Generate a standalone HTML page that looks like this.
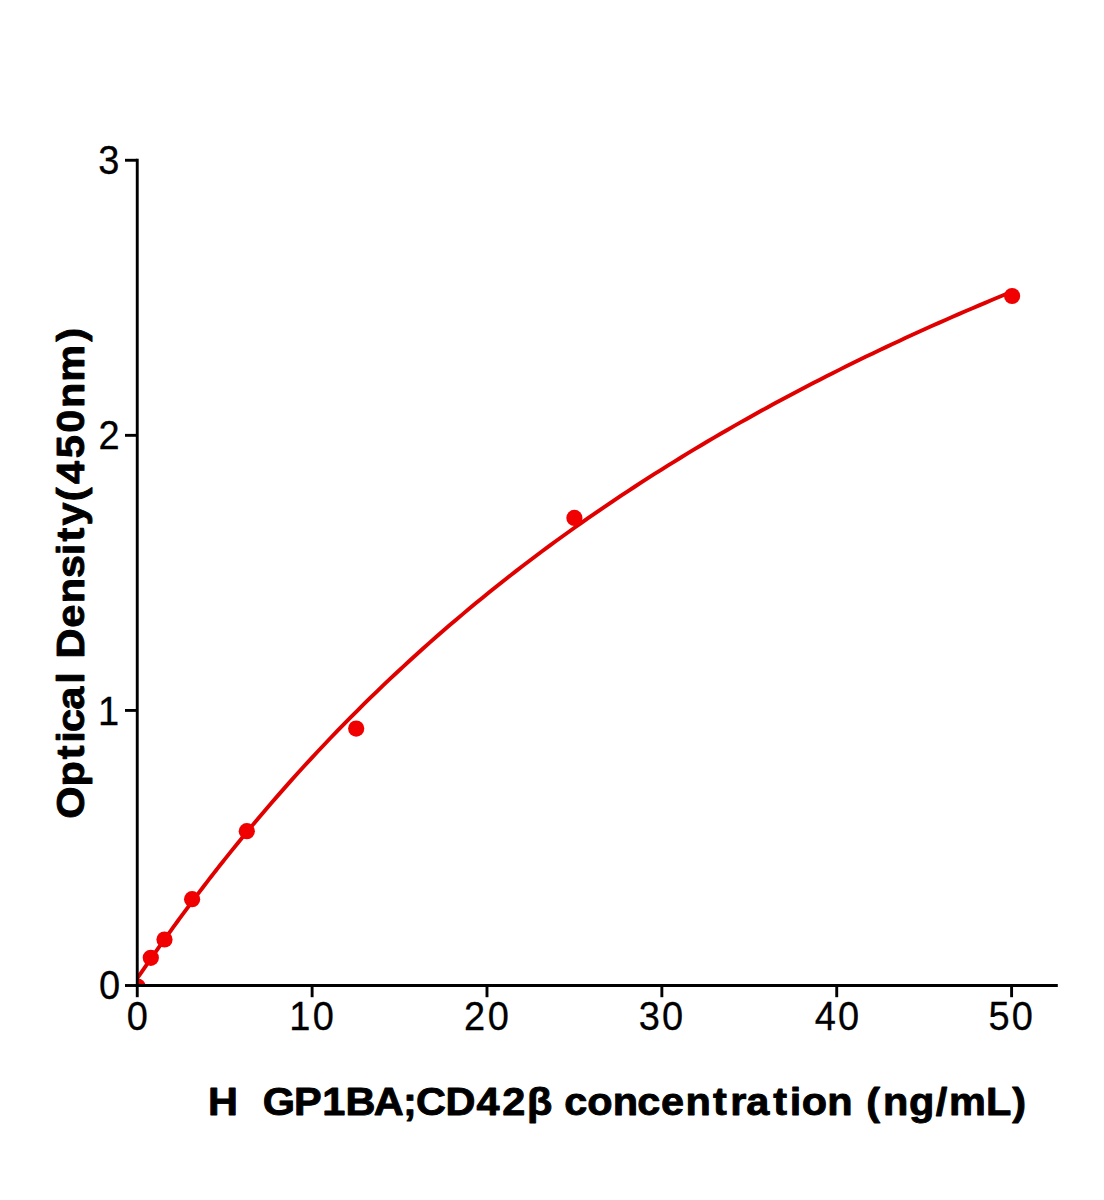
<!DOCTYPE html>
<html><head><meta charset="utf-8"><title>ELISA standard curve</title><style>
html,body{margin:0;padding:0;background:#fff;width:1104px;height:1200px;overflow:hidden;}
svg{display:block;}
text{font-family:"Liberation Sans",sans-serif;white-space:pre;}
</style></head><body>
<svg width="1104" height="1200" viewBox="0 0 1104 1200">
<rect width="1104" height="1200" fill="#fff"/>
<defs><clipPath id="ax"><rect x="137.25" y="160.25" width="919.05" height="825.25"/></clipPath></defs>
<g clip-path="url(#ax)">
<polyline points="137.25,978.23 139.49,975.04 141.73,971.82 143.98,968.59 146.22,965.37 148.46,962.15 150.70,958.94 152.94,955.74 155.19,952.55 157.43,949.37 159.67,946.20 161.91,943.04 164.15,939.90 166.39,936.76 168.64,933.64 170.88,930.52 173.12,927.42 175.36,924.33 177.60,921.25 179.85,918.19 182.09,915.14 184.33,912.09 186.57,909.07 188.81,906.05 191.06,903.04 193.30,900.05 195.54,897.07 197.78,894.10 200.02,891.14 202.27,888.20 204.51,885.26 206.75,882.34 208.99,879.43 211.23,876.53 213.48,873.65 215.72,870.77 217.96,867.91 220.20,865.06 222.44,862.22 224.69,859.39 231.30,851.11 237.91,842.94 244.52,834.86 251.14,826.87 257.75,818.98 264.36,811.19 270.97,803.48 277.59,795.86 284.20,788.34 290.81,780.90 297.43,773.55 304.04,766.28 310.65,759.09 317.26,751.99 323.88,744.97 330.49,738.03 337.10,731.17 343.71,724.38 350.33,717.67 356.94,711.03 363.55,704.47 370.17,697.98 376.78,691.56 383.39,685.21 390.00,678.93 396.62,672.72 403.23,666.57 409.84,660.50 416.45,654.48 423.07,648.53 429.68,642.64 436.29,636.82 442.91,631.05 449.52,625.35 456.13,619.70 462.74,614.12 469.36,608.59 475.97,603.11 482.58,597.69 489.19,592.33 495.81,587.02 502.42,581.77 509.03,576.57 515.65,571.41 522.26,566.31 528.87,561.26 535.48,556.26 542.10,551.31 548.71,546.41 555.32,541.55 561.93,536.74 568.55,531.98 575.16,527.26 581.77,522.59 588.39,517.96 595.00,513.38 601.61,508.83 608.22,504.33 614.84,499.88 621.45,495.46 628.06,491.08 634.67,486.75 641.29,482.45 647.90,478.19 654.51,473.98 661.13,469.80 667.74,465.65 674.35,461.55 680.96,457.48 687.58,453.44 694.19,449.44 700.80,445.48 707.41,441.55 714.03,437.66 720.64,433.80 727.25,429.97 733.87,426.18 740.48,422.42 747.09,418.69 753.70,414.99 760.32,411.32 766.93,407.69 773.54,404.08 780.15,400.51 786.77,396.96 793.38,393.45 799.99,389.96 806.61,386.50 813.22,383.07 819.83,379.67 826.44,376.30 833.06,372.95 839.67,369.63 846.28,366.34 852.89,363.07 859.51,359.83 866.12,356.62 872.73,353.43 879.35,350.26 885.96,347.12 892.57,344.01 899.18,340.92 905.80,337.85 912.41,334.81 919.02,331.79 925.63,328.79 932.25,325.82 938.86,322.87 945.47,319.94 952.09,317.04 958.70,314.15 965.31,311.29 971.92,308.45 978.54,305.63 985.15,302.83 991.76,300.05 998.37,297.29 1004.99,294.56 1011.60,291.84" fill="none" stroke="#e00000" stroke-width="3.9" stroke-linejoin="round" stroke-linecap="butt"/>
<g fill="#f00000">
<circle cx="137.6" cy="986.5" r="8.1"/>
<circle cx="150.8" cy="957.8" r="8.1"/>
<circle cx="164.5" cy="939.5" r="8.1"/>
<circle cx="192.1" cy="899.2" r="8.1"/>
<circle cx="246.8" cy="831.2" r="8.1"/>
<circle cx="356.2" cy="728.6" r="8.1"/>
<circle cx="574.4" cy="517.9" r="8.1"/>
<circle cx="1012.1" cy="296.0" r="8.1"/>
</g>
</g>
<g stroke="#000" stroke-width="2.9" fill="none">
<line x1="137.25" y1="158.8" x2="137.25" y2="986.95"/>
<line x1="135.8" y1="985.5" x2="1057.8" y2="985.5"/>
<line x1="125" y1="985.50" x2="137.25" y2="985.50"/><line x1="125" y1="710.42" x2="137.25" y2="710.42"/><line x1="125" y1="435.34" x2="137.25" y2="435.34"/><line x1="125" y1="160.26" x2="137.25" y2="160.26"/>
<line x1="137.25" y1="985.5" x2="137.25" y2="997.2"/><line x1="312.12" y1="985.5" x2="312.12" y2="997.2"/><line x1="486.99" y1="985.5" x2="486.99" y2="997.2"/><line x1="661.86" y1="985.5" x2="661.86" y2="997.2"/><line x1="836.73" y1="985.5" x2="836.73" y2="997.2"/><line x1="1011.60" y1="985.5" x2="1011.60" y2="997.2"/>
</g>
<g font-size="40" fill="#000" stroke="#000" stroke-width="0.3">
<text transform="translate(0,173.70) scale(0.95,1)" x="103.31" y="0">3</text>
<text transform="translate(0,449.00) scale(0.95,1)" x="103.82" y="0">2</text>
<text transform="translate(0,724.60) scale(0.95,1)" x="103.28" y="0">1</text>
<text transform="translate(0,998.90) scale(0.95,1)" x="104.30" y="0">0</text>
<text transform="translate(0,1030.30) scale(0.95,1)" x="133.56" y="0">0</text>
<text transform="translate(0,1030.00) scale(0.95,1)" x="304.39 329.15" y="0">10</text>
<text transform="translate(0,1030.00) scale(0.95,1)" x="488.42 513.49" y="0">20</text>
<text transform="translate(0,1030.00) scale(0.95,1)" x="672.40 696.91" y="0">30</text>
<text transform="translate(0,1030.00) scale(0.95,1)" x="857.55 882.12" y="0">40</text>
<text transform="translate(0,1030.00) scale(0.95,1)" x="1040.42 1065.12" y="0">50</text>
</g>
<g font-size="39.5" font-weight="bold" fill="#000" stroke="#000" stroke-width="0.9" stroke-linejoin="round">
<text transform="translate(0,1115) scale(1.05,1)" x="198.20 226.73 237.70 250.35 279.92 306.89 328.95 355.85 383.80 396.25 424.27 453.79 478.27 501.85 525.96 537.34 559.22 583.68 606.90 629.52 652.93 679.00 695.43 710.79 736.48 752.09 763.48 787.93 812.06 825.10 840.91 865.65 891.27 903.76 939.00 964.05" y="0">H  GP1BA;CD42β concentration (ng/mL)</text>
<text transform="translate(83.8,816.5) rotate(-90) scale(1.05,1)" x="-2.25 28.58 54.55 70.16 80.37 101.79 126.40 137.37 150.44 179.67 203.08 227.15 248.86 261.91 277.25 300.31 316.69 341.27 365.52 389.02 414.12 452.15" y="0">Optical Density(450nm)</text>
</g>
</svg>
</body></html>
